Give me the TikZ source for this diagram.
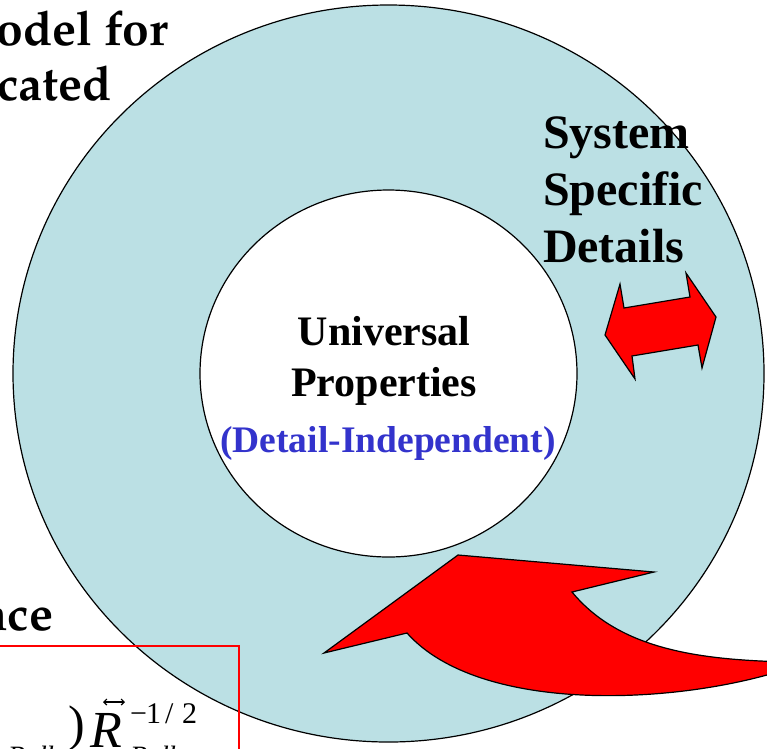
\documentclass[tikz,border=0pt]{standalone}
\usepackage{fontspec}
\setmainfont{Liberation Serif}
\newfontfamily\palafont{TeX Gyre Pagella}
\definecolor{ringblue}{RGB}{187,224,228}
\definecolor{indepblue}{RGB}{51,51,204}
\usetikzlibrary{arrows.meta}
\tikzset{
  outline/.style={draw=black, line width=1.2pt},
  redshape/.style={fill=red, draw=black, line width=1.2pt, line join=miter},
  lbl/.style={inner sep=0pt, outer sep=0pt, font=\bfseries},
  sidetext/.style={inner sep=0pt, outer sep=0pt, font=\palafont\bfseries\fontsize{48}{55}\selectfont},
  formula/.style={inner sep=0pt, outer sep=0pt},
  supfont/.style={formula, anchor=base west, font=\fontsize{30}{32}\selectfont},
}
\begin{document}
\begin{tikzpicture}[x=1pt,y=-1pt]
\useasboundingbox (0,0) rectangle (767,748);
\clip (0,0) rectangle (767,748);
% outer ring
\fill[ringblue] (388.5,373.5) ellipse [x radius=375.5, y radius=368.5];
\draw[outline] (388.5,373.5) ellipse [x radius=375.5, y radius=368.5];
% inner disc
\fill[white] (388.5,373.5) ellipse [x radius=188.5, y radius=183.5];
\draw[outline] (388.5,373.5) ellipse [x radius=188.5, y radius=183.5];

% side texts (cut off at the left)
\node[sidetext, anchor=base east] (t1) at (168,45) {odel for};
\node[sidetext, anchor=base east] (t2) at (112,100) {cated};
\node[sidetext, anchor=base east] (t3) at (53,630) {nce};

% red box with formula
\draw[red, line width=1.5pt] (-5,646) -- (239,646) -- (239,760);
\node[formula, anchor=base west, font=\itshape\fontsize{28}{30}\selectfont] (f0) at (8,765) {Bulk};
\node[formula, anchor=base west, font=\fontsize{50}{54}\selectfont] (f1) at (68,740) {)};
\node[formula, anchor=base west, font=\itshape\fontsize{52}{56}\selectfont] (f2) at (90,747) {R};
\coordinate (aa) at (103,702);
\coordinate (ab) at (125,702);
\draw[{Straight Barb[length=3pt,width=6pt]}-{Straight Barb[length=3pt,width=6pt]}, line width=1.2pt] (aa) -- (ab);
\node[supfont] (f3a) at (130,723) {\char"2212};
\node[supfont] (f3b) at (146,723) {1};
\node[supfont] (f3c) at (165,723) {/};
\node[supfont] (f3d) at (182,723) {2};
\node[formula, anchor=base west, font=\itshape\fontsize{28}{30}\selectfont] (f4) at (130,765) {Bulk};

% centre texts
\node[lbl, font=\bfseries\fontsize{42}{50}\selectfont, anchor=base] (u1) at (384,345) {Universal};
\node[lbl, font=\bfseries\fontsize{42}{50}\selectfont, anchor=base] (u2) at (384,396) {Properties};
\node[lbl, font=\bfseries\fontsize{37.5}{44}\selectfont, text=indepblue, anchor=base] (u3) at (388,452) {(Detail-Independent)};

% system specific details
\node[lbl, font=\bfseries\fontsize{48}{57}\selectfont, anchor=base west] (s1) at (543,148) {System};
\node[lbl, font=\bfseries\fontsize{48}{57}\selectfont, anchor=base west] (s2) at (543,205) {Specific};
\node[lbl, font=\bfseries\fontsize{48}{57}\selectfont, anchor=base west] (s3) at (543,262) {Details};

% double arrow
\draw[redshape] (605,335) -- (620,284) -- (624,308) -- (690,297) -- (686,273)
  -- (716,317) -- (702,368) -- (698,345) -- (632,356) -- (635,379) -- cycle;

% curved arrow
\draw[redshape] (324,653) -- (458,555) -- (654,572) -- (572,592)
  .. controls (620,650) and (700,660) .. (790,662)
  -- (790,668)
  .. controls (680,705) and (480,715) .. (407,633) -- cycle;
\end{tikzpicture}
\end{document}
